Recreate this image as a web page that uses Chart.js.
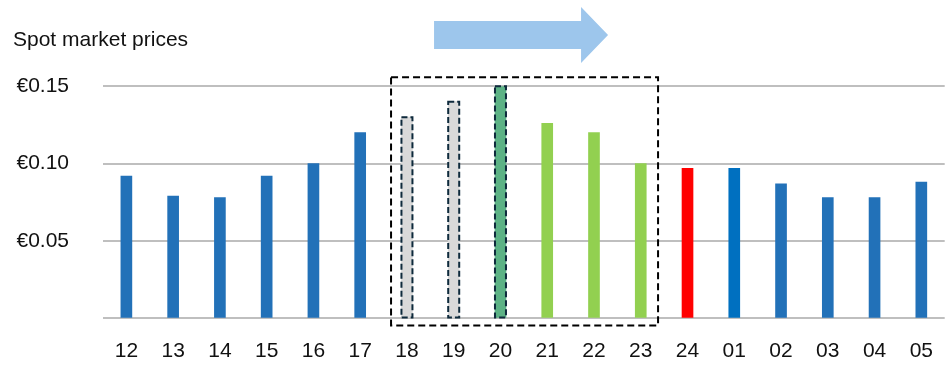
<!DOCTYPE html>
<html>
<head>
<meta charset="utf-8">
<script src="https://cdn.jsdelivr.net/npm/chart.js@4/dist/chart.umd.min.js"></script>
<style>
  html, body { margin: 0; padding: 0; background: #fff; }
  #wrap { width: 945px; height: 365px; }
</style>
</head>
<body>
<div id="wrap"><canvas id="spotChart"></canvas></div>
<script>
// chart values
const categories = ['12', '13', '14', '15', '16', '17', '18', '19', '20', '21', '22', '23', '24', '01', '02', '03', '04', '05'];
const prices = [0.092, 0.079, 0.078, 0.092, 0.100, 0.120, 0.130, 0.140, 0.150, 0.126, 0.120, 0.100, 0.097, 0.097, 0.087, 0.078, 0.078, 0.088];
const barColors = ['#2271B8', '#2271B8', '#2271B8', '#2271B8', '#2271B8', '#2271B8',
  '#D9D9D9', '#D9D9D9', '#5CB285', '#92D050', '#92D050', '#92D050',
  '#FF0000', '#0070C0', '#2271B8', '#2271B8', '#2271B8', '#2271B8'];
const yTicks = [0.05, 0.10, 0.15];
const dashedBars = ['18', '19', '20'];   // bars with a dashed outline
const boxFrom = '18', boxTo = '23';      // dashed frame around this range

const FONT = '"Liberation Sans", Arial, sans-serif';

// draws the dashed outlines, the dashed frame and the blue arrow
const annotations = {
  id: 'annotations',
  afterDatasetsDraw(chart) {
    const ctx = chart.ctx;
    const x = chart.scales.x, y = chart.scales.y;
    const meta = chart.getDatasetMeta(0);
    const step = x.getPixelForValue(1) - x.getPixelForValue(0);

    ctx.save();
    // dashed outline on single bars
    ctx.strokeStyle = '#0E2A3C';
    ctx.lineWidth = 2;
    ctx.setLineDash([6, 3]);
    dashedBars.forEach((c) => {
      const bar = meta.data[categories.indexOf(c)];
      const w = bar.width;
      ctx.strokeRect(bar.x - w / 2, bar.y, w, bar.base - bar.y);
    });

    // dashed frame
    ctx.strokeStyle = '#000';
    ctx.setLineDash([7, 4]);
    const left = x.getPixelForValue(categories.indexOf(boxFrom)) - step * 0.34;
    const right = x.getPixelForValue(categories.indexOf(boxTo)) + step * 0.37;
    const top = y.getPixelForValue(0.15) - 9;
    const bottom = y.getPixelForValue(0) + 7;
    ctx.strokeRect(left, top, right - left, bottom - top);
    ctx.restore();

    // arrow above the frame
    const aLeft = left + 43;
    const aRight = right - 50;
    const headStart = aRight - 27;
    const mid = 35;
    ctx.save();
    ctx.fillStyle = '#9DC6EC';
    ctx.beginPath();
    ctx.moveTo(aLeft, mid - 14);
    ctx.lineTo(headStart, mid - 14);
    ctx.lineTo(headStart, mid - 28);
    ctx.lineTo(aRight, mid);
    ctx.lineTo(headStart, mid + 28);
    ctx.lineTo(headStart, mid + 14);
    ctx.lineTo(aLeft, mid + 14);
    ctx.closePath();
    ctx.fill();
    ctx.restore();
  }
};

const ctx = document.getElementById('spotChart').getContext('2d');
new Chart(ctx, {
  type: 'bar',
  data: {
    labels: categories,
    datasets: [{
      data: prices,
      backgroundColor: barColors,
      borderWidth: 0,
      barThickness: 11
    }]
  },
  options: {
    responsive: true,
    maintainAspectRatio: false,
    animation: false,
    layout: { padding: { left: 13, right: 0, top: 0, bottom: 0 } },
    plugins: {
      legend: { display: false },
      tooltip: { enabled: false },
      title: {
        display: true,
        text: 'Spot market prices',
        align: 'start',
        color: '#111',
        font: { family: FONT, size: 21, weight: 'normal' },
        padding: { top: 28, bottom: 33 }
      }
    },
    scales: {
      x: {
        afterFit(scale) { scale.height = 43; },
        grid: { display: false },
        border: { display: false },
        ticks: {
          color: '#111',
          font: { family: FONT, size: 21 },
          padding: 12,
          maxRotation: 0,
          autoSkip: false
        }
      },
      y: {
        min: 0,
        max: 0.15,
        afterBuildTicks(scale) {
          scale.ticks = [0].concat(yTicks).map((v) => ({ value: v }));
        },
        afterFit(scale) { scale.width = 90; },
        grid: { color: '#BFBFBF', lineWidth: 2, drawTicks: false },
        border: { display: false },
        ticks: {
          color: '#111',
          font: { family: FONT, size: 21 },
          padding: 34,
          callback: (v) => (v === 0 ? '' : '€' + v.toFixed(2))
        }
      }
    }
  },
  plugins: [annotations]
});
</script>
</body>
</html>
